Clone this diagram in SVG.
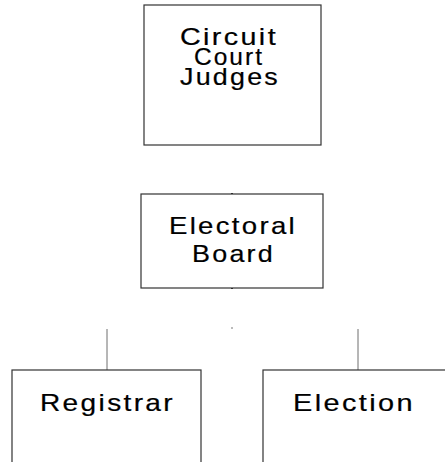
<svg xmlns="http://www.w3.org/2000/svg" width="445" height="462" viewBox="0 0 445 462">
  <style>
    .box { fill: #ffffff; stroke: #333333; stroke-width: 1.2; }
    .lbl { font-family: "Liberation Sans", Arial, sans-serif; font-size: 24px; letter-spacing: 2px; fill: #000000; stroke: #000000; stroke-width: 0.2; text-anchor: middle; }
    .wire { stroke: #6e6e6e; stroke-width: 1; fill: none; }
    .tick { stroke: #222222; stroke-width: 2; }
  </style>
  <rect width="445" height="462" fill="#ffffff"/>

  <!-- connectors -->
  <g id="connectors">
    <line class="tick" x1="232" y1="193" x2="232" y2="195"/>
    <line class="tick" x1="232" y1="287" x2="232" y2="289"/>
    <rect x="231" y="327" width="2" height="2" fill="#bbbbbb"/>
    <line class="wire" x1="107" y1="329" x2="107" y2="370"/>
    <line class="wire" x1="358" y1="329" x2="358" y2="370"/>
  </g>

  <!-- top node -->
  <g id="circuit-court-judges">
    <rect class="box" x="144" y="5" width="177" height="140"/>
    <text class="lbl" x="229" y="45" textLength="98" lengthAdjust="spacingAndGlyphs">Circuit</text>
    <text class="lbl" x="229" y="65" textLength="70" lengthAdjust="spacingAndGlyphs">Court</text>
    <text class="lbl" x="230" y="85" textLength="100" lengthAdjust="spacingAndGlyphs">Judges</text>
  </g>

  <!-- middle node -->
  <g id="electoral-board">
    <rect class="box" x="141" y="194" width="182" height="94"/>
    <text class="lbl" x="233" y="234" textLength="128" lengthAdjust="spacingAndGlyphs">Electoral</text>
    <text class="lbl" x="233.5" y="262" textLength="83" lengthAdjust="spacingAndGlyphs">Board</text>
  </g>

  <!-- bottom nodes -->
  <g id="registrar">
    <rect class="box" x="12" y="370" width="189" height="110"/>
    <text class="lbl" x="107.5" y="411" textLength="135" lengthAdjust="spacingAndGlyphs">Registrar</text>
  </g>

  <g id="election">
    <rect class="box" x="263" y="370" width="200" height="110"/>
    <text class="lbl" x="354" y="411" textLength="122" lengthAdjust="spacingAndGlyphs">Election</text>
  </g>
</svg>
